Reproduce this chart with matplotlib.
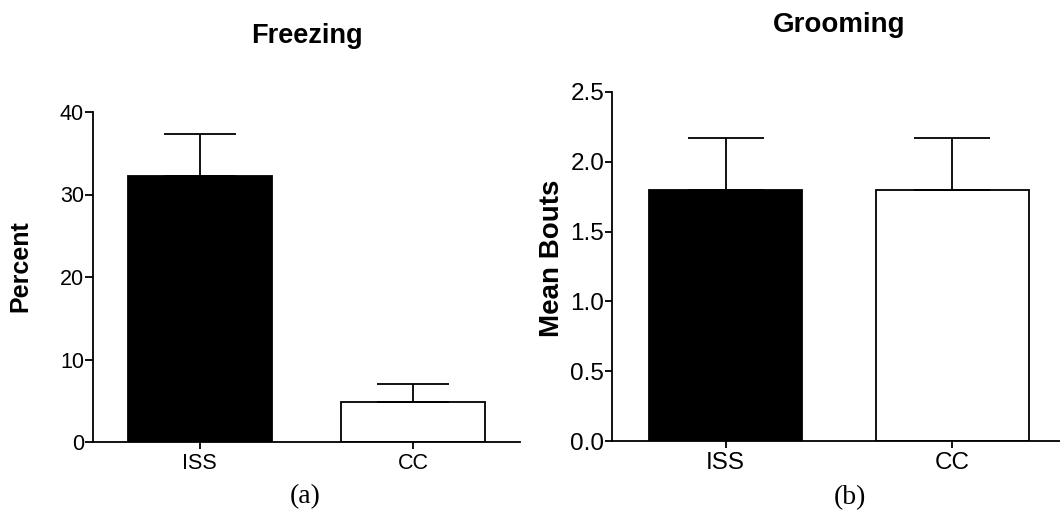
import matplotlib
matplotlib.use("Agg")
import matplotlib.pyplot as plt

# data
groups = ["ISS", "CC"]
freezing = [32.2, 4.9]
freezing_err = [5.1, 2.1]
grooming = [1.80, 1.80]
grooming_err = [0.37, 0.37]
bar_colors = ["black", "white"]

plt.rcParams["font.family"] = ["Liberation Sans", "DejaVu Sans"]

fig = plt.figure(figsize=(10.6, 5.14), dpi=100)
W, H = 1060, 514


def panel(rect, values, errs, ylim, yticks, ytick_labels, tick_fs, capsize):
    ax = fig.add_axes(rect)
    x = range(len(groups))
    ax.bar(x, values, width=0.673, color=bar_colors, edgecolor="black",
           linewidth=1.3, zorder=2)
    ax.errorbar(x, values, yerr=[[0] * len(errs), errs], fmt="none",
                ecolor="black", elinewidth=1.3, capsize=capsize,
                capthick=1.3, zorder=3)
    ax.set_xlim(-0.5, 1.5)
    ax.set_ylim(*ylim)
    ax.set_yticks(yticks)
    ax.set_yticklabels(ytick_labels)
    ax.set_xticks(list(x))
    ax.set_xticklabels(groups)
    for s in ["top", "right"]:
        ax.spines[s].set_visible(False)
    for s in ["left", "bottom"]:
        ax.spines[s].set_linewidth(1.3)
    ax.tick_params(axis="y", length=6, width=1.3, pad=0.5, labelsize=tick_fs)
    ax.tick_params(axis="x", length=5, width=1.3, pad=3, labelsize=tick_fs)
    return ax


# (a) Freezing
ax1 = panel([93 / W, 1 - 442 / H, 427 / W, 330 / H], freezing, freezing_err,
            (0, 40), [0, 10, 20, 30, 40], ["0", "10", "20", "30", "40"],
            15.5, 26)
# (b) Grooming
ax2 = panel([612 / W, 1 - 441 / H, 454 / W, 349 / H], grooming, grooming_err,
            (0, 2.5), [0, 0.5, 1.0, 1.5, 2.0, 2.5],
            ["0.0", "0.5", "1.0", "1.5", "2.0", "2.5"], 17.5, 27.5)
ax2.tick_params(axis="y", length=5)

fig.text(307 / W, 1 - 43 / H, "Freezing", ha="center", va="baseline",
         fontsize=19.5, fontweight="bold")
fig.text(839 / W, 1 - 32 / H, "Grooming", ha="center", va="baseline",
         fontsize=20, fontweight="bold")

fig.text(20 / W, 1 - 266 / H, "Percent", ha="center", va="center",
         rotation=90, fontsize=18, fontweight="bold")
fig.text(552 / W, 1 - 258 / H, "Mean Bouts", ha="center", va="center",
         rotation=90, fontsize=20, fontweight="bold")

fig.text(305 / W, 1 - 497 / H, "(a)", ha="center", va="center",
         fontsize=20, family=["Liberation Serif", "DejaVu Serif"])
fig.text(850 / W, 1 - 498 / H, "(b)", ha="center", va="center",
         fontsize=20, family=["Liberation Serif", "DejaVu Serif"])

fig.savefig("out.png", dpi=100)
